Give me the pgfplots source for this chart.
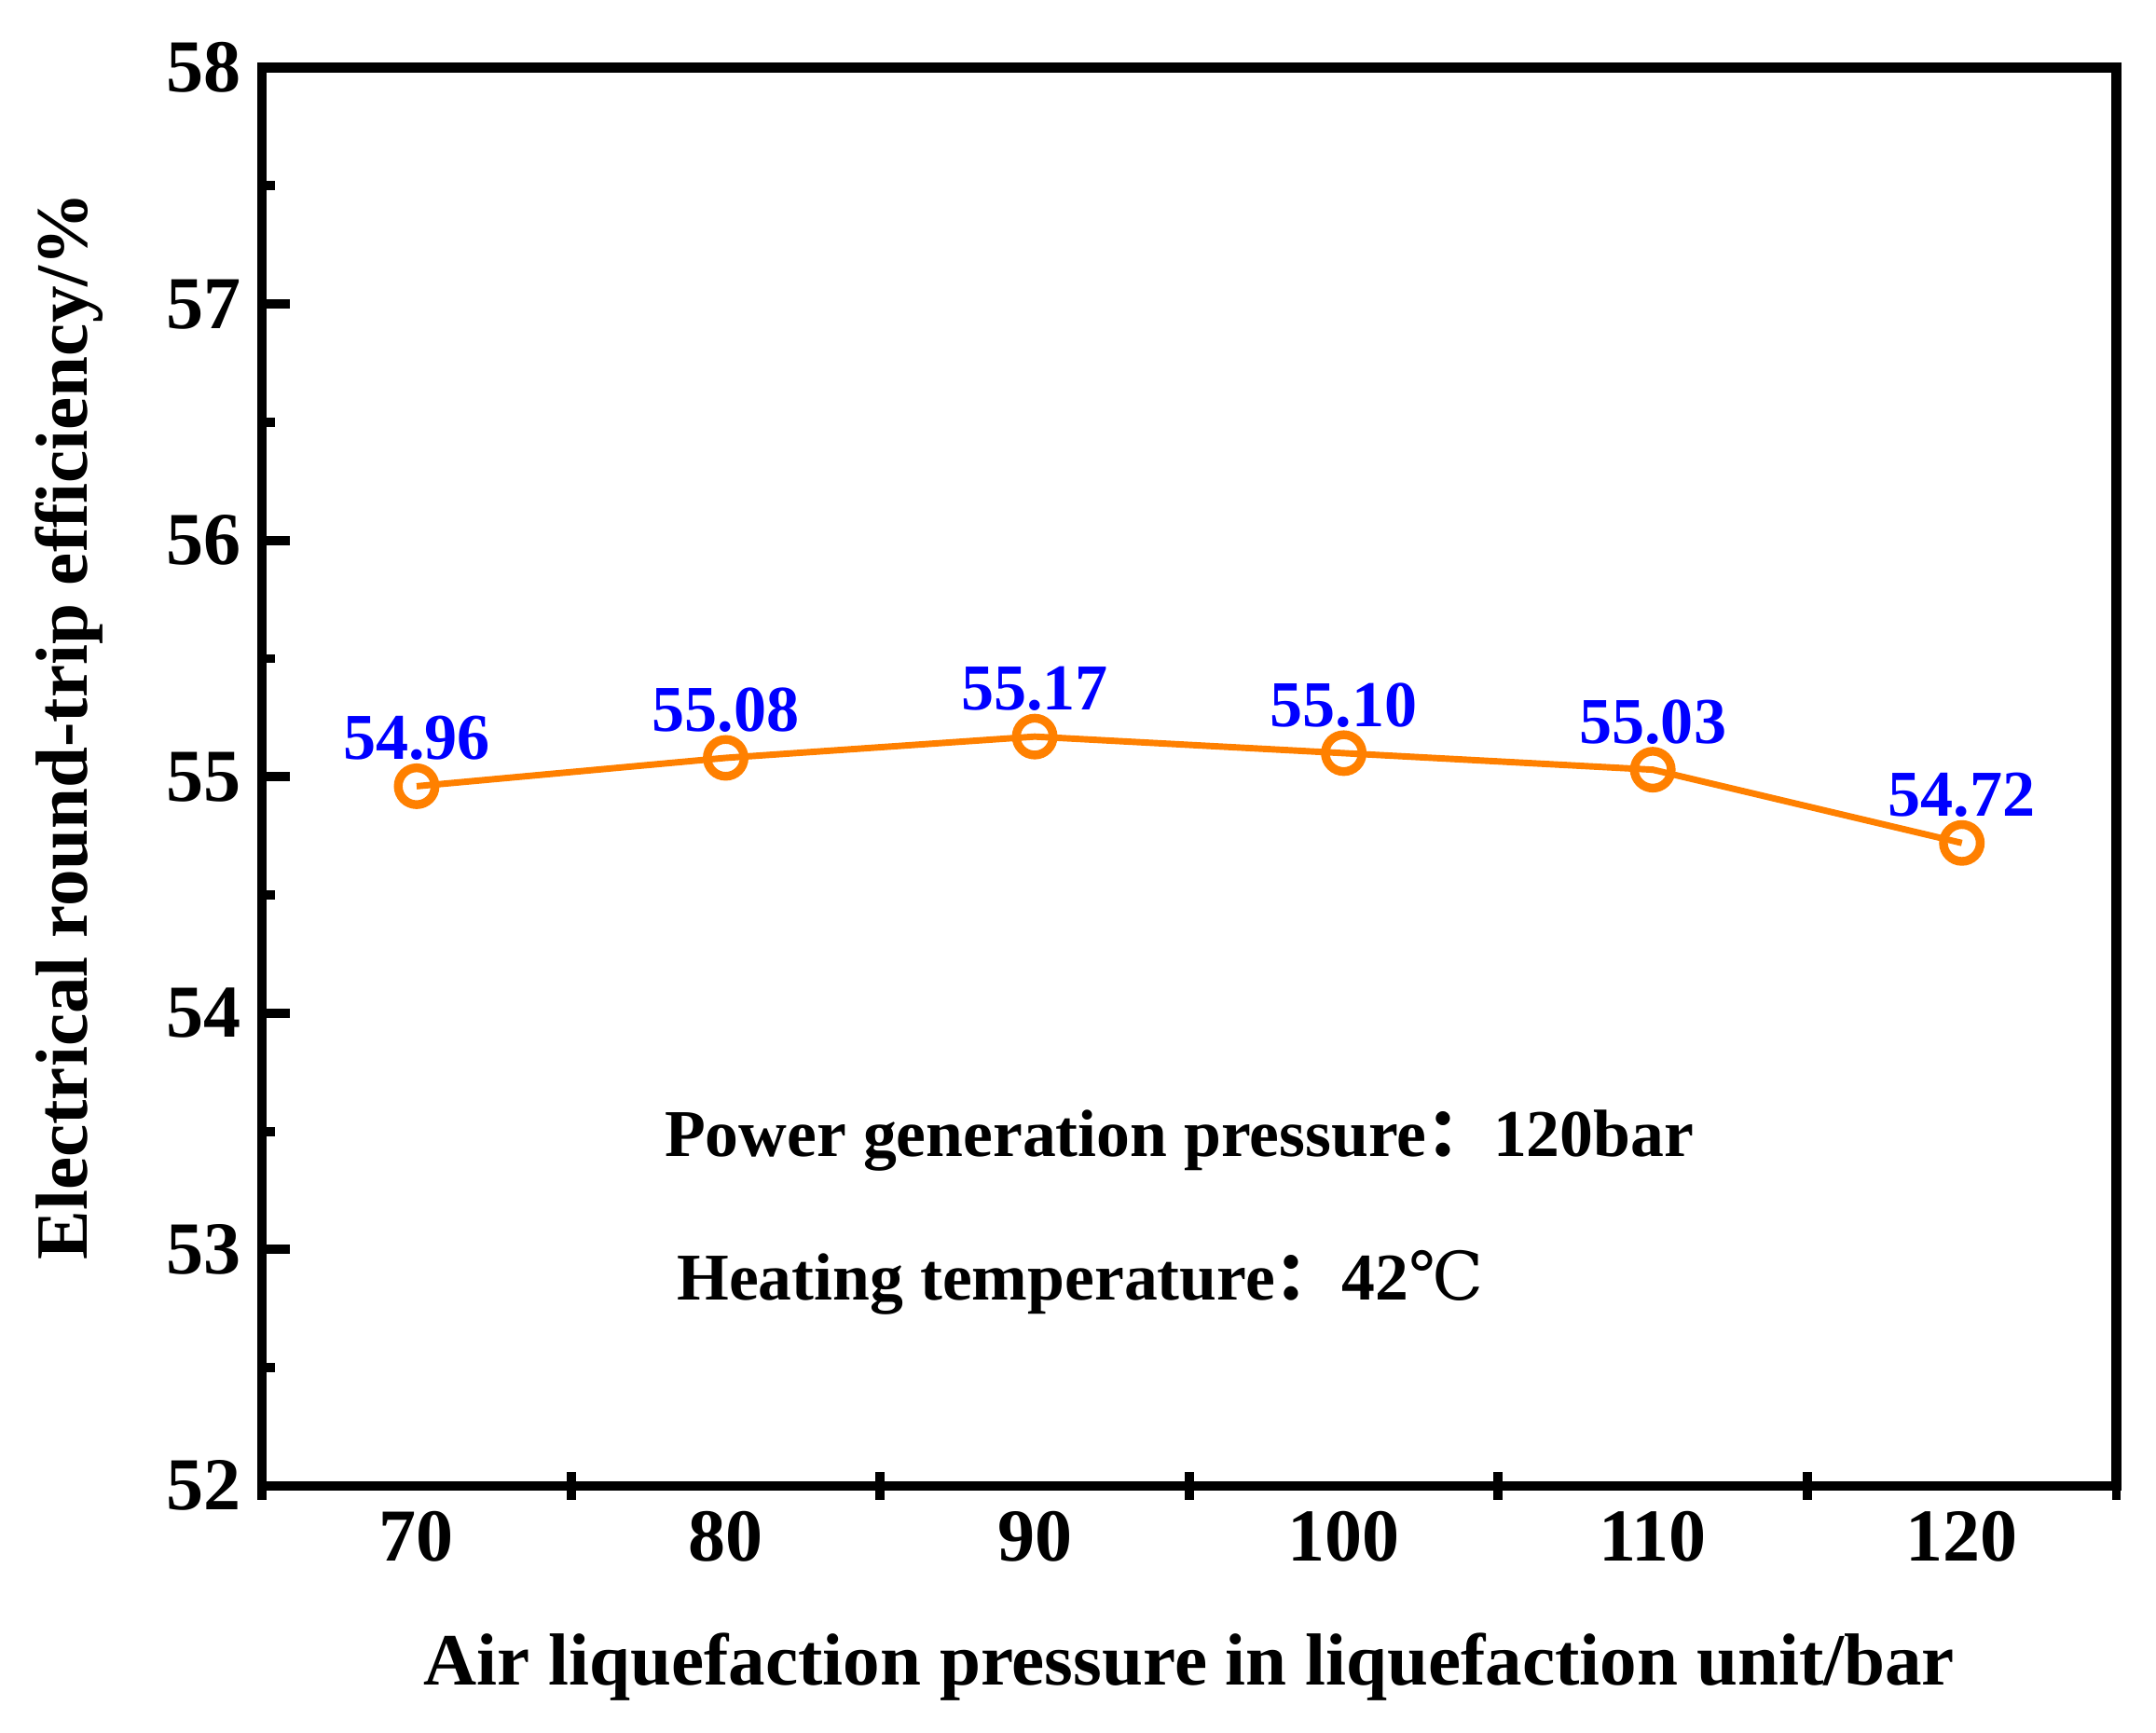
\documentclass[border=0pt]{standalone}
\usepackage{pgfplots}
\pgfplotsset{compat=1.18}
\usepackage{fontspec}
\setmainfont{Liberation Serif}
\newfontfamily\cjk{Noto Sans CJK SC}
\newfontfamily\dejaserif{DejaVu Serif}
\definecolor{lineorange}{HTML}{FF8000}
\definecolor{labelblue}{HTML}{0000FF}
\begin{document}
\begin{tikzpicture}
\path[use as bounding box] (-56.9pt,-53.6pt) rectangle (411.1pt,322.5pt);
\begin{axis}[
  at={(0,0)}, anchor=origin,
  scale only axis,
  width=402.5pt, height=307.8pt,
  xmin=65, xmax=125, ymin=52, ymax=58,
  axis line style={line width=2.1pt},
  xtick={70,80,...,120},
  extra x ticks={65,75,...,125},
  extra x tick labels={},
  extra x tick style={major x tick style={draw=black}},
  major x tick style={draw=none},
  ytick={52,53,...,58},
  minor ytick={52.5,53.5,...,57.5},
  xtick pos=bottom, ytick pos=left,
  major tick length=6pt,
  minor tick length=2.8pt,
  every tick/.append style={line width=2pt, black},
  xtick align=center,
  ytick align=inside,
  /pgf/number format/assume math mode=true,
  tick label style={font=\fontsize{16.2}{16.2}\selectfont\bfseries},
  xticklabel style={yshift=1pt},
  yticklabel style={xshift=-1pt},
  xlabel={Air liquefaction pressure in liquefaction unit/bar},
  ylabel={Electrical round-trip efficiency/\%},
  label style={font=\fontsize{16}{16}\selectfont\bfseries},
  xlabel style={yshift=-2.6pt},
  ylabel style={yshift=7pt, xshift=11pt},
  clip=false,
]
\addplot[color=lineorange, line width=1.4pt, mark=o, mark size=4pt,
  mark options={line width=1.9pt, fill=white},
  nodes near coords,
  point meta=explicit symbolic,
  every node near coord/.append style={font=\fontsize{14.2}{14.2}\selectfont\bfseries, color=labelblue, anchor=south, yshift=1.3pt}]
  table[meta=lab] {
x y lab
70 54.96 54.96
80 55.08 55.08
90 55.17 55.17
100 55.10 55.10
110 55.03 55.03
120 54.72 54.72
};
\node[anchor=west, font=\fontsize{14.5}{14.5}\selectfont\bfseries] at (axis cs:77.5,53.46) {Power generation pressure{\cjk ：}120bar};
\node[anchor=west, font=\fontsize{14.5}{14.5}\selectfont\bfseries] at (axis cs:77.9,52.86) {Heating temperature{\cjk ：}42{\dejaserif\mdseries ℃}};
\end{axis}
\end{tikzpicture}
\end{document}
